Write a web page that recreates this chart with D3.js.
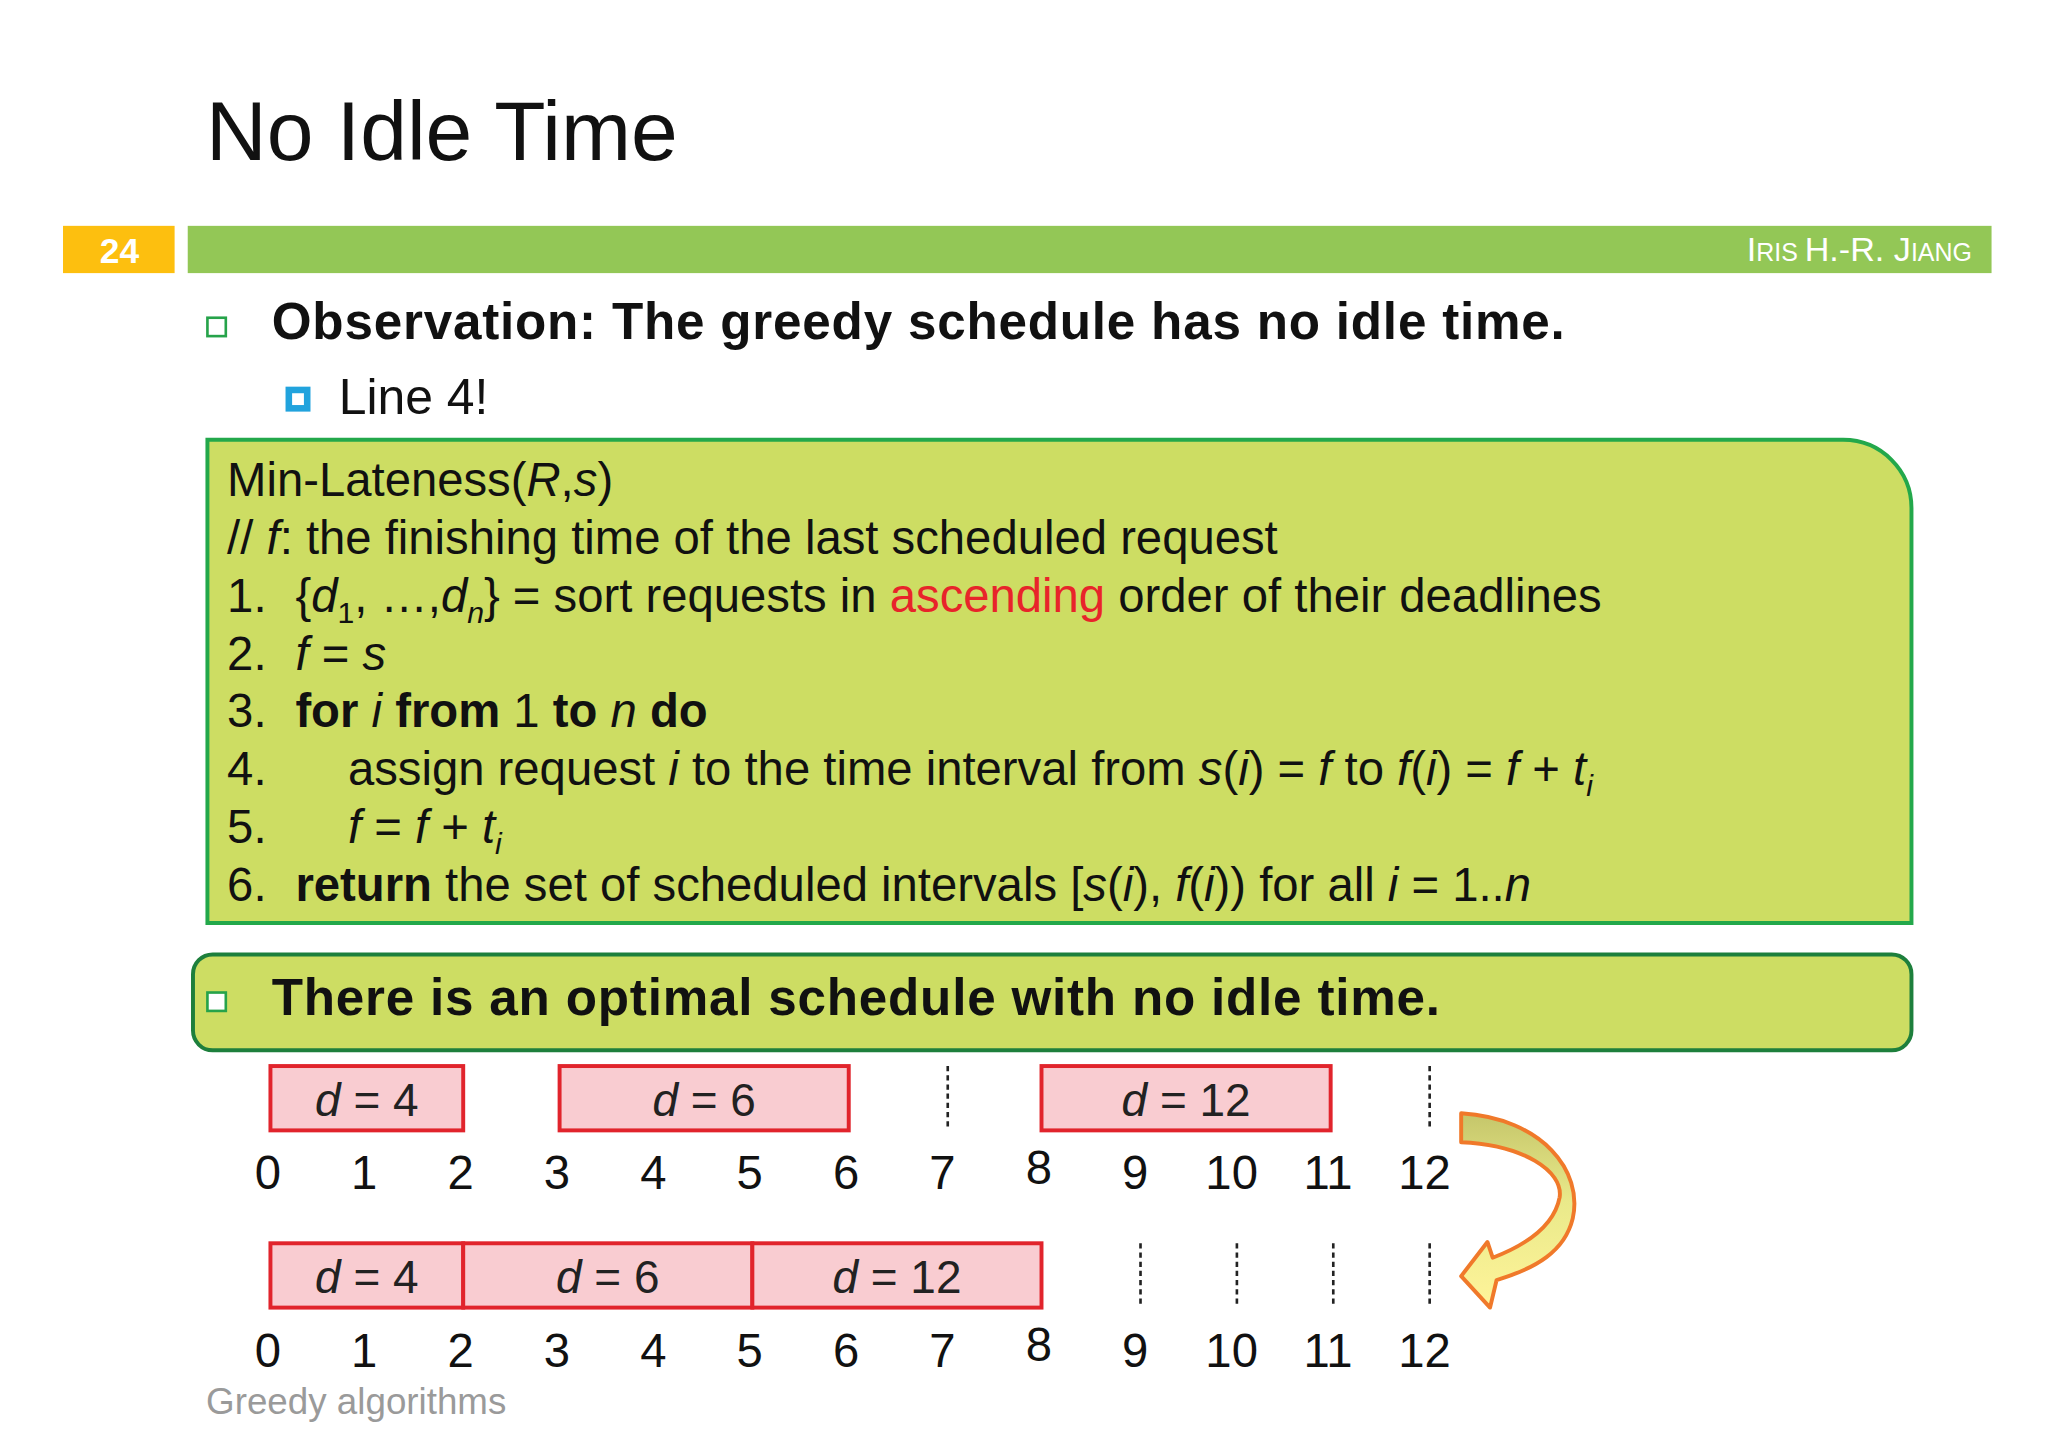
<!DOCTYPE html>
<html><head><meta charset="utf-8">
<script src="https://cdn.jsdelivr.net/npm/d3@7"></script>
<style>body{margin:0;background:#fff}</style>
</head><body><div id="slide"></div>
<script>
// timeline data
var ticks = [0,1,2,3,4,5,6,7,8,9,10,11,12];
var jobsBefore = [{d:4,s:0,f:2},{d:6,s:3,f:6},{d:12,s:8,f:11}];
var jobsAfter = [{d:4,s:0,f:2},{d:6,s:2,f:5},{d:12,s:5,f:8}];
var idleBefore = [7,12];
var idleAfter = [9,10,11,12];

// code lines: [number, indent, parts]; part = [text, style]
var codeLines = [
  ["", 0, [["Min-Lateness("],["R","i"],[","],["s","i"],[")"]]],
  ["", 0, [["// "],["f","i"],[": the finishing time of the last scheduled request"]]],
  ["1.", 1, [["{"],["d","i"],["1","sub"],[", …,"],["d","i"],["n","subi"],["} = sort requests in "],["ascending","red"],[" order of their deadlines"]]],
  ["2.", 1, [["f","i"],[" = "],["s","i"]]],
  ["3.", 1, [["for","b"],[" "],["i","i"],[" "],["from","b"],[" 1 "],["to","b"],[" "],["n","i"],[" "],["do","b"]]],
  ["4.", 2, [["assign request "],["i","i"],[" to the time interval from "],["s","i"],["("],["i","i"],[") = "],["f","i"],[" to "],["f","i"],["("],["i","i"],[") = "],["f","i"],[" + "],["t","i"],["i","subi"]]],
  ["5.", 2, [["f","i"],[" = "],["f","i"],[" + "],["t","i"],["i","subi"]]],
  ["6.", 1, [["return","b"],[" the set of scheduled intervals ["],["s","i"],["("],["i","i"],["), "],["f","i"],["("],["i","i"],[")) for all "],["i","i"],[" = 1.."],["n","i"]]]
];

var W = 1560, H = 1109;
var font = "'Liberation Sans', Arial, Helvetica, sans-serif";
var svg = d3.select("#slide").append("svg")
  .attr("width", 2048).attr("height", 1456)
  .attr("viewBox", "0 0 " + W + " " + H)
  .style("font-family", font);

// title
svg.append("text").attr("x", 157).attr("y", 122).attr("font-size", 64).attr("fill", "#111").text("No Idle Time");

// header bar
svg.append("rect").attr("x", 48).attr("y", 172).attr("width", 85).attr("height", 36).attr("fill", "#fdbf0f");
svg.append("text").attr("x", 91).attr("y", 200).attr("text-anchor", "middle").attr("font-size", 27)
  .attr("font-weight", "bold").attr("fill", "#fff").text("24");
svg.append("rect").attr("x", 143).attr("y", 172).attr("width", 1374).attr("height", 36).attr("fill", "#93c756");
var auth = svg.append("text").attr("x", 1502).attr("y", 199).attr("text-anchor", "end").attr("fill", "#fff").attr("font-size", 26);
[["I",26],["RIS ",19],["H.-R. J",26],["IANG",19]].forEach(function(p){ auth.append("tspan").attr("font-size", p[1]).text(p[0]); });

// bullets
function hollowSquare(x, y, s, c, w) {
  svg.append("rect").attr("x", x).attr("y", y).attr("width", s).attr("height", s)
    .attr("fill", "#fff").attr("stroke", c).attr("stroke-width", w);
}
hollowSquare(158, 242, 14, "#26a34a", 2);
svg.append("text").attr("x", 207).attr("y", 258).attr("font-size", 39).attr("font-weight", "bold").attr("fill", "#111")
  .attr("letter-spacing", 0.6).text("Observation: The greedy schedule has no idle time.");
hollowSquare(220, 297, 14, "#21a3dd", 5);
svg.append("text").attr("x", 258).attr("y", 315).attr("font-size", 38).attr("fill", "#111").text("Line 4!");

// code box with rounded top-right corner
var bx0 = 158, by0 = 335, bx1 = 1456, by1 = 703, r = 52;
svg.append("path")
  .attr("d", "M" + bx0 + "," + by0 + "H" + (bx1 - r) + "A" + r + "," + r + " 0 0 1 " + bx1 + "," + (by0 + r) +
    "V" + by1 + "H" + bx0 + "Z")
  .attr("fill", "#cddd63").attr("stroke", "#23a84b").attr("stroke-width", 3);

var lineY = d3.scaleLinear().domain([0, 7]).range([378, 686]);
var indentX = [173, 225, 265];
codeLines.forEach(function(l, k) {
  var y = lineY(k);
  if (l[0]) svg.append("text").attr("x", 173).attr("y", y).attr("font-size", 36).attr("fill", "#111").text(l[0]);
  var t = svg.append("text").attr("x", indentX[l[1]]).attr("y", y).attr("font-size", 36).attr("fill", "#111")
    .style("white-space", "pre");
  l[2].forEach(function(p) {
    var sp = t.append("tspan").text(p[0]);
    var st = p[1] || "";
    if (st === "i" || st === "subi") sp.attr("font-style", "italic");
    if (st === "b") sp.attr("font-weight", "bold");
    if (st === "red") sp.attr("fill", "#e8242a");
    if (st === "sub" || st === "subi") sp.attr("font-size", 23).attr("baseline-shift", "-8");
  });
});

// second box
svg.append("rect").attr("x", 147).attr("y", 727).attr("width", 1309).attr("height", 73).attr("rx", 15)
  .attr("fill", "#cddd63").attr("stroke", "#1d7f3c").attr("stroke-width", 3);
hollowSquare(158, 756, 14, "#26a34a", 2);
svg.append("text").attr("x", 207).attr("y", 773).attr("font-size", 39).attr("font-weight", "bold").attr("fill", "#111")
  .attr("letter-spacing", 0.6).text("There is an optimal schedule with no idle time.");

// timelines
var x = d3.scaleLinear().domain([0, 12]).range([206, 1087]);
function timeline(jobs, idle, top, labelY) {
  var g = svg.append("g");
  g.selectAll("rect.job").data(jobs).enter().append("rect")
    .attr("x", function(d){ return x(d.s); }).attr("y", top)
    .attr("width", function(d){ return x(d.f) - x(d.s); }).attr("height", 49)
    .attr("fill", "#f9ccd1").attr("stroke", "#e1242c").attr("stroke-width", 3);
  g.selectAll("text.job").data(jobs).enter().append("text")
    .attr("x", function(d){ return (x(d.s) + x(d.f)) / 2; }).attr("y", top + 38)
    .attr("text-anchor", "middle").attr("font-size", 35).attr("fill", "#222")
    .each(function(d) {
      var t = d3.select(this);
      t.append("tspan").attr("font-style", "italic").text("d");
      t.append("tspan").text(" = " + d.d);
    });
  g.selectAll("line.idle").data(idle).enter().append("line")
    .attr("x1", function(d){ return x(d) + 2; }).attr("x2", function(d){ return x(d) + 2; })
    .attr("y1", top).attr("y2", top + 49)
    .attr("stroke", "#222").attr("stroke-width", 2).attr("stroke-dasharray", "4,3");
  g.selectAll("text.tick").data(ticks).enter().append("text")
    .attr("x", function(d){ return x(d) - 2; }).attr("y", function(d){ return d === 8 ? labelY - 4 : labelY; })
    .attr("text-anchor", "middle").attr("font-size", 36).attr("fill", "#111")
    .text(function(d){ return d; });
}
timeline(jobsBefore, idleBefore, 812, 906);
timeline(jobsAfter, idleAfter, 947, 1041);

// curved arrow
var grad = svg.append("defs").append("linearGradient").attr("id", "arr").attr("x1", 0).attr("y1", 0).attr("x2", 0).attr("y2", 1);
grad.append("stop").attr("offset", "0%").attr("stop-color", "#c5c66a");
grad.append("stop").attr("offset", "45%").attr("stop-color", "#e9e98a");
grad.append("stop").attr("offset", "100%").attr("stop-color", "#fff49a");
svg.append("path")
  .attr("d", "M1113,848 C1175,852 1206,892 1198,928 C1192,953 1170,966 1140,975 L1135,996 L1113,972 L1133,946 L1137,958 " +
    "C1163,948 1184,933 1188,912 C1191,892 1160,872 1113,870 Z")
  .attr("fill", "url(#arr)").attr("stroke", "#f0792a").attr("stroke-width", 3).attr("stroke-linejoin", "round");

// footer
svg.append("text").attr("x", 157).attr("y", 1077).attr("font-size", 28).attr("fill", "#9a9a9a").text("Greedy algorithms");
</script></body></html>
